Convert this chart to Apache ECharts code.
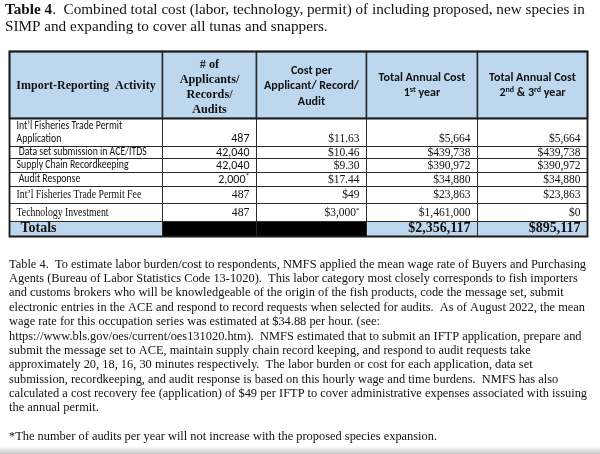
<!DOCTYPE html>
<html><head><meta charset="utf-8">
<script src="https://cdn.jsdelivr.net/npm/echarts@6/dist/echarts.min.js"></script>
<style>html,body{margin:0;padding:0;background:#fff}#c{width:600px;height:454px}</style>
</head><body><div id="c"></div>
<script>
// ---------- data ----------
const titleBold = 'Table 4';
const titleRest = ['.  Combined total cost (labor, technology, permit) of including proposed, new species in',
  'SIMP and expanding to cover all tunas and snappers.'];
const headerActivity = 'Import-Reporting  Activity';
const headerApplicants = ['# of', 'Applicants/', 'Records/', 'Audits'];
const headerCostPer = ['Cost per', 'Applicant/ Record/', 'Audit'];
const headerYear1 = ['Total Annual Cost', ['1', 'st', ' year']];
const headerYear23 = ['Total Annual Cost', ['2', 'nd', ' & ', '3', 'rd', ' year']];
const activities = ["Int\u2019l Fisheries Trade Permit\nApplication", ' Data set submission in ACE/ITDS',
  'Supply Chain Recordkeeping', ' Audit Response', "Int\u2019l Fisheries Trade Permit Fee", 'Technology Investment'];
const applicants = ['487', '42,040', '42,040', '2,000*', '487', '487'];
const costPerUnit = ['$11.63', '$10.46', '$9.30', '$17.44', '$49', '$3,000*'];
const totalYear1 = ['$5,664', '$439,738', '$390,972', '$34,880', '$23,863', '$1,461,000'];
const totalYear23 = ['$5,664', '$439,738', '$390,972', '$34,880', '$23,863', '$0'];
const totalsLabel = 'Totals';
const totalsYear1 = '$2,356,117';
const totalsYear23 = '$895,117';
const noteLines = [
  'Table 4.  To estimate labor burden/cost to respondents, NMFS applied the mean wage rate of Buyers and Purchasing',
  'Agents (Bureau of Labor Statistics Code 13-1020).  This labor category most closely corresponds to fish importers',
  'and customs brokers who will be knowledgeable of the origin of the fish products, code the message set, submit',
  'electronic entries in the ACE and respond to record requests when selected for audits.  As of August 2022, the mean',
  'wage rate for this occupation series was estimated at $34.88 per hour. (see:',
  'https://www.bls.gov/oes/current/oes131020.htm).  NMFS estimated that to submit an IFTP application, prepare and',
  'submit the message set to ACE, maintain supply chain record keeping, and respond to audit requests take',
  'approximately 20, 18, 16, 30 minutes respectively.  The labor burden or cost for each application, data set',
  'submission, recordkeeping, and audit response is based on this hourly wage and time burdens.  NMFS has also',
  'calculated a cost recovery fee (application) of $49 per IFTP to cover administrative expenses associated with issuing',
  'the annual permit.',
  '',
  '*The number of audits per year will not increase with the proposed species expansion.'
];

// ---------- layout ----------
const colWidths = [153, 94, 110, 111, 110];
const rowHeights = [67, 28, 12, 14, 14, 17, 18, 15];
const colEdges = [0]; colWidths.forEach(w => colEdges.push(colEdges[colEdges.length - 1] + w));
const rowEdges = [0]; rowHeights.forEach(h => rowEdges.push(rowEdges[rowEdges.length - 1] + h));
const SERIF = '"Liberation Serif","Times New Roman",serif';
const SANS = 'Carlito,Lato,"Liberation Sans",sans-serif';
const BLUE = '#bdd7ee';
const INK = '#111';

function tok(size, family, weight, extra) {
  return Object.assign({ fontSize: size, fontFamily: family, fontWeight: weight || 'normal', fill: INK }, extra || {});
}
function supStyles(size, family, weight, lh) {
  return {
    n: tok(size, family, weight, { lineHeight: lh }),
    s: tok(Math.round(size * 0.65), family, weight, { verticalAlign: 'top', lineHeight: lh })
  };
}
function withStar(v) {
  return v.endsWith('*') ? '{n|' + v.slice(0, -1) + '}{s|*}' : '{n|' + v + '}';
}

const cells = [];
function addCell(c, r, o) { cells.push(Object.assign({ c: c, r: r, sx: 1 }, o)); }

// header
addCell(0, 0, { fill: BLUE, text: '{n|' + headerActivity + '}', rich: supStyles(12, SERIF, 'bold', 15), align: 'center', vy: 0.51 });
addCell(1, 0, { fill: BLUE, text: headerApplicants.map(s => '{n|' + s + '}').join('\n'), rich: supStyles(12.2, SERIF, 'bold', 15), align: 'center', vy: 0.53 });
addCell(2, 0, { fill: BLUE, text: headerCostPer.map(s => '{n|' + s + '}').join('\n'), rich: supStyles(12, SANS, 'bold', 15.3), align: 'center', vy: 0.52 });
function supLine(parts) { return parts.map(p => (/^(st|nd|rd)$/.test(p) ? '{s|' + p + '}' : '{n|' + p + '}')).join(''); }
addCell(3, 0, { fill: BLUE, text: '{n|' + headerYear1[0] + '}\n' + supLine(headerYear1[1]), rich: supStyles(12, SANS, 'bold', 15.5), align: 'center', vy: 0.51 });
addCell(4, 0, { fill: BLUE, text: '{n|' + headerYear23[0] + '}\n' + supLine(headerYear23[1]), rich: supStyles(12, SANS, 'bold', 15.5), align: 'center', vy: 0.51 });

// body
activities.forEach((a, i) => {
  const r = i + 1;
  const sansRow = i < 4;
  const first = i === 0;
  addCell(0, r, {
    fill: '#fff', text: a.split('\n').map(s => '{n|' + s + '}').join('\n'),
    rich: supStyles(sansRow ? 11.5 : 11.8, sansRow ? SANS : SERIF, 'normal', 12.5),
    sx: sansRow ? 0.85 : 0.83, align: 'left', vy: 0.5
  });
  addCell(1, r, { fill: '#fff', text: withStar(applicants[i]), rich: supStyles(sansRow ? 12 : 11.8, sansRow ? SANS : SERIF, 'normal', 12.5), align: 'right', vy: first ? 0.72 : 0.5 });
  addCell(2, r, { fill: '#fff', text: withStar(costPerUnit[i]), rich: supStyles(11.5, SERIF, 'normal', 12.5), align: 'right', vy: first ? 0.72 : 0.5 });
  addCell(3, r, { fill: '#fff', text: withStar(totalYear1[i]), rich: supStyles(11.5, SERIF, 'normal', 12.5), align: 'right', vy: first ? 0.72 : 0.5 });
  addCell(4, r, { fill: '#fff', text: withStar(totalYear23[i]), rich: supStyles(11.5, SERIF, 'normal', 12.5), align: 'right', vy: first ? 0.72 : 0.5 });
});
// totals
const tr = activities.length + 1;
addCell(0, tr, { fill: BLUE, text: '{n|' + totalsLabel + '}', rich: supStyles(14, SERIF, 'bold', 15), align: 'left', pad: 11, vy: 0.45 });
addCell(1, tr, { fill: '#000' });
addCell(2, tr, { fill: '#000' });
addCell(3, tr, { fill: BLUE, text: '{n|' + totalsYear1 + '}', rich: supStyles(14, SERIF, 'bold', 15), align: 'right', vy: 0.45 });
addCell(4, tr, { fill: BLUE, text: '{n|' + totalsYear23 + '}', rich: supStyles(14, SERIF, 'bold', 15), align: 'right', vy: 0.45 });

const chart = echarts.init(document.getElementById('c'), null, { renderer: 'canvas' });

const noteGraphics = noteLines.map((t, i) => ({
  type: 'text', left: 9, top: 258.5 + i * 14.35,
  style: { text: t, fontFamily: SERIF, fontSize: 12.4, fill: INK }
}));

chart.setOption({
  animation: false,
  backgroundColor: '#fff',
  grid: { left: 9, top: 51, width: 578, height: 185 },
  xAxis: { type: 'value', min: 0, max: colEdges[colEdges.length - 1], show: false },
  yAxis: { type: 'value', min: 0, max: rowEdges[rowEdges.length - 1], inverse: true, show: false },
  graphic: [
    {
      type: 'text', left: 5, top: 3,
      style: {
        text: '{b|' + titleBold + '}{r|' + titleRest[0] + '}\n{r|' + titleRest[1] + '}',
        rich: {
          b: { fontFamily: SERIF, fontSize: 15.2, fontWeight: 'bold', fill: INK, lineHeight: 16.5 },
          r: { fontFamily: SERIF, fontSize: 15.2, fill: INK, lineHeight: 16.5 }
        }
      }
    },
    {
      type: 'rect', left: 0, top: 446, shape: { width: 600, height: 8 },
      style: { fill: new echarts.graphic.LinearGradient(0, 0, 0, 1, [{ offset: 0, color: 'rgba(200,200,200,0)' }, { offset: 1, color: 'rgba(190,190,190,0.9)' }]) }
    }
  ].concat(noteGraphics),
  series: [{
    type: 'custom',
    coordinateSystem: 'cartesian2d',
    data: cells.map(c => [c.c, c.r]),
    renderItem: function (params, api) {
      const cell = cells[params.dataIndex];
      const c = api.value(0), r = api.value(1);
      const p0 = api.coord([colEdges[c], rowEdges[r]]);
      const p1 = api.coord([colEdges[c + 1], rowEdges[r + 1]]);
      const x0 = Math.round(p0[0]) + 0.5, y0 = Math.round(p0[1]) + 0.5;
      const x1 = Math.round(p1[0]) + 0.5, y1 = Math.round(p1[1]) + 0.5;
      const children = [{
        type: 'rect',
        shape: { x: x0, y: y0, width: x1 - x0, height: y1 - y0 },
        style: { fill: cell.fill, stroke: '#2a2a2a', lineWidth: r === 0 ? 1.5 : 1 }
      }];
      if (cell.text) {
        const pad = cell.pad != null ? cell.pad : 7;
        const tx = cell.align === 'left' ? x0 + pad : cell.align === 'right' ? x1 - pad : (x0 + x1) / 2;
        children.push({
          type: 'text',
          x: tx, y: y0 + (y1 - y0) * cell.vy,
          scaleX: cell.sx,
          style: { text: cell.text, rich: cell.rich, x: 0, y: 0, align: cell.align, verticalAlign: 'middle' }
        });
      }
      return { type: 'group', children: children };
    },
    z: 2
  }, {
    type: 'custom',
    coordinateSystem: 'cartesian2d',
    data: [[0, 0]],
    renderItem: function (params, api) {
      const p0 = api.coord([colEdges[0], rowEdges[0]]);
      const p1 = api.coord([colEdges[colEdges.length - 1], rowEdges[rowEdges.length - 1]]);
      const pm = api.coord([0, rowEdges[1]]);
      return {
        type: 'group', children: [
          { type: 'rect', shape: { x: p0[0] + 0.5, y: p0[1] + 0.5, width: p1[0] - p0[0], height: p1[1] - p0[1] }, style: { fill: null, stroke: '#1a1a1a', lineWidth: 1.8 } },
          { type: 'line', shape: { x1: p0[0], y1: Math.round(pm[1]) + 0.5, x2: p1[0], y2: Math.round(pm[1]) + 0.5 }, style: { stroke: '#1a1a1a', lineWidth: 2 } }
        ]
      };
    },
    z: 3
  }]
});
</script></body></html>
